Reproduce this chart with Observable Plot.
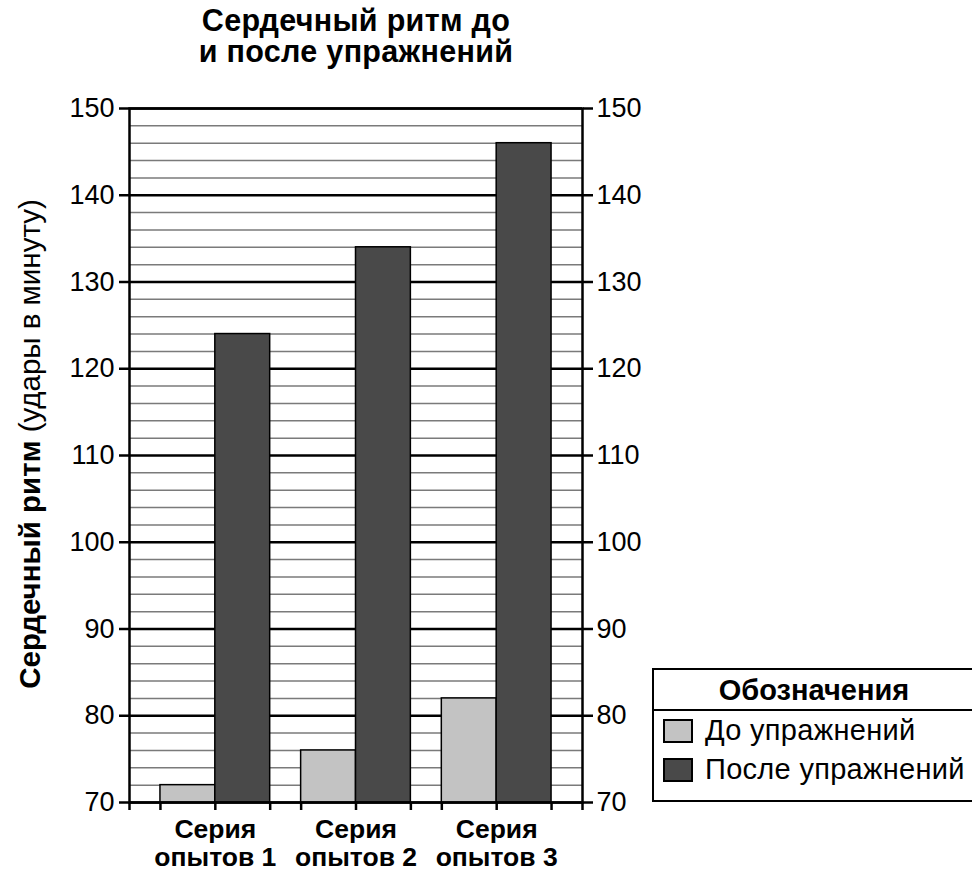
<!DOCTYPE html>
<html>
<head>
<meta charset="utf-8">
<script src="https://cdn.jsdelivr.net/npm/d3@7"></script>
<script src="https://cdn.jsdelivr.net/npm/@observablehq/plot@0.6"></script>
<style>
  html, body { margin: 0; padding: 0; background: #fff; overflow: hidden; }
  body { font-family: "Liberation Sans", Arial, Helvetica, sans-serif; color: #000; }
  #wrap { position: relative; width: 972px; height: 875px; overflow: hidden; }
  #title { position: absolute; left: 0; top: 5px; width: 712px; text-align: center;
           font-weight: bold; font-size: 30.5px; line-height: 31px; letter-spacing: 0.3px; }
  #chart { position: absolute; left: 0; top: 80px; }
  #ylabel { position: absolute; left: 30px; top: 444px; white-space: nowrap; font-size: 29.5px;
            transform: translate(-50%, -50%) rotate(-90deg); }
  #ylabel b { font-weight: bold; }
  #legend { position: absolute; left: 652px; top: 668px; width: 340px; height: 134px;
            border: 2.5px solid #000; box-sizing: border-box; background: #fff; }
  #legend .head { height: 41px; border-bottom: 2.5px solid #000; box-sizing: border-box;
                  font-weight: bold; font-size: 29px; line-height: 40px; width: 320px; text-align: center; }
  #legend .row { display: flex; align-items: center; height: 39px; font-size: 29px; padding-left: 9px; letter-spacing: 0.3px; }
  #legend .sw { width: 30px; height: 24px; border: 2px solid #000; margin-right: 12px; box-sizing: border-box; flex: none; }
</style>
</head>
<body>
<div id="wrap">
  <div id="title">Сердечный ритм до<br>и после упражнений</div>
  <div id="chart"></div>
  <div id="ylabel"><b>Сердечный ритм</b> (удары в минуту)</div>
  <div id="legend">
    <div class="head">Обозначения</div>
    <div class="row"><div class="sw" id="sw0"></div><span id="lg0"></span></div>
    <div class="row"><div class="sw" id="sw1"></div><span id="lg1"></span></div>
  </div>
</div>
<script>
// ---- data ----
const groups = ["Серия\nопытов 1", "Серия\nопытов 2", "Серия\nопытов 3"];
const seriesNames = ["До упражнений", "После упражнений"];
const before = [72, 76, 82];
const after = [124, 134, 146];
const yDomain = [70, 150];
const yTicks = [70, 80, 90, 100, 110, 120, 130, 140, 150];
const minorTicks = d3.range(70, 151, 2).filter(v => v % 10 !== 0);
const colors = ["#c3c3c3", "#494949"];

const rows = groups.map((g, i) => ({group: g, before: before[i], after: after[i]}));

// ---- layout ----
const W = 972, H = 795;
const mL = 129, mR = 390, mT = 28, mB = 73;
const pad = 0.22;
const innerW = W - mL - mR;
const step = innerW / (groups.length + pad);
const bw = step * (1 - pad);
const edge = bw / 2 + step * pad;

const tickRows = [];
groups.forEach((g) => {
  tickRows.push({g, dx: -bw / 2}, {g, dx: 0}, {g, dx: bw / 2});
});
tickRows.push({g: groups[0], dx: -edge}, {g: groups[groups.length - 1], dx: edge});

const chart = Plot.plot({
  width: W, height: H,
  marginLeft: mL, marginRight: mR, marginTop: mT, marginBottom: mB,
  style: {fontFamily: "'Liberation Sans', Arial, Helvetica, sans-serif", fontSize: "27px", color: "#000", background: "transparent"},
  x: {domain: groups, padding: pad, round: false, axis: null},
  y: {domain: yDomain},
  marks: [
    Plot.ruleY(minorTicks, {stroke: "#7a7a7a", strokeWidth: 1.5}),
    Plot.ruleY(yTicks, {stroke: "#000", strokeWidth: 2.5}),
    Plot.barY(rows, {x: "group", y1: yDomain[0], y2: "before", insetRight: bw / 2,
                     fill: colors[0], stroke: "#000", strokeWidth: 1.5}),
    Plot.barY(rows, {x: "group", y1: yDomain[0], y2: "after", insetLeft: bw / 2,
                     fill: colors[1], stroke: "#000", strokeWidth: 1.5}),
    Plot.frame({stroke: "#000", strokeWidth: 2.5}),
    Plot.axisY(yTicks, {anchor: "left", tickSize: 10, tickPadding: 5, strokeWidth: 2.5, fontSize: 27, label: null}),
    Plot.axisY(yTicks, {anchor: "right", tickSize: 10, tickPadding: 4, strokeWidth: 2.5, fontSize: 27, label: null}),
    ...tickRows.map(t => Plot.ruleX([t.g], {x: d => d, y1: yDomain[0], y2: yDomain[0], insetBottom: -8, dx: t.dx, stroke: "#000", strokeWidth: 2.5})),
    Plot.text(groups, {x: d => d, y: yDomain[0], text: d => d, dy: 15, lineAnchor: "top", lineHeight: 1.08,
                       fontWeight: "bold", fontSize: 26.5, fill: "#000"})
  ]
});
document.getElementById("chart").appendChild(chart);

// legend
seriesNames.forEach((n, i) => {
  document.getElementById("sw" + i).style.background = colors[i];
  document.getElementById("lg" + i).textContent = n;
});
</script>
</body>
</html>
